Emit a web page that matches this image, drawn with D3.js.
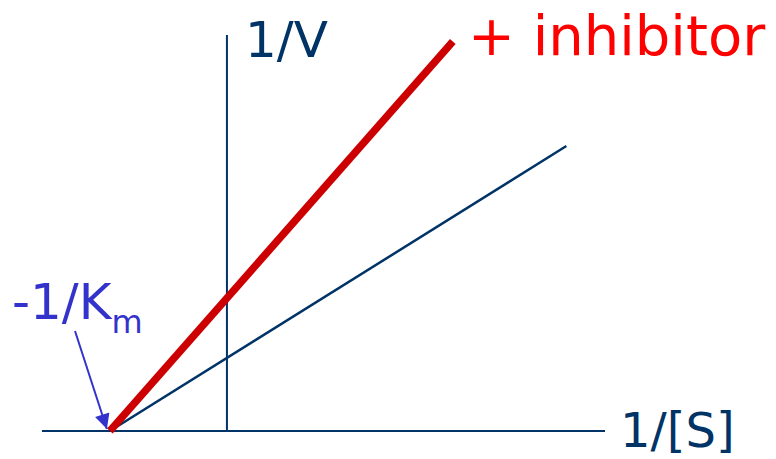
<!DOCTYPE html>
<html>
<head>
<meta charset="utf-8">
<script src="https://cdn.jsdelivr.net/npm/d3@7"></script>
<style>
  body { margin: 0; background: #fff; }
  svg text { font-family: "DejaVu Sans", Verdana, sans-serif; }
</style>
</head>
<body>
<script>
// Lineweaver-Burk plot, 1/[S] vs 1/V
const xDomain = [-1.58, 3.23];
const yDomain = [0, 5.42];

const uninhibited = [{ x: -1, y: 0 }, { x: 2.9, y: 3.9 }];
const inhibited = [{ x: -1, y: 0 }, { x: 1.93, y: 5.33 }];

const labels = { xAxis: "1/[S]", yAxis: "1/V", inhibitor: "+ inhibitor", km: "-1/K", kmSub: "m" };
const kmValue = -1;

const width = 776;
const height = 459;

const svg = d3.select("body").append("svg").attr("width", width).attr("height", height);

const navy = "#003366";

const xScale = d3.scaleLinear().domain(xDomain).range([42, 605]);
const yScale = d3.scaleLinear().domain(yDomain).range([431, 35]);

// axes as plain lines through zero
svg.append("line")
  .attr("x1", xScale(xDomain[0])).attr("x2", xScale(xDomain[1]))
  .attr("y1", yScale(0)).attr("y2", yScale(0))
  .attr("stroke", navy).attr("stroke-width", 2);

svg.append("line")
  .attr("x1", xScale(0)).attr("x2", xScale(0))
  .attr("y1", yScale(0)).attr("y2", yScale(yDomain[1]))
  .attr("stroke", navy).attr("stroke-width", 2);

const line = d3.line()
  .x(d => xScale(d.x))
  .y(d => yScale(d.y));

svg.append("path")
  .datum(uninhibited)
  .attr("fill", "none")
  .attr("stroke", navy)
  .attr("stroke-width", 2.5)
  .attr("d", line);

svg.append("path")
  .datum(inhibited)
  .attr("fill", "none")
  .attr("stroke", "#cc0000")
  .attr("stroke-width", 7.5)
  .attr("d", line);

// labels
svg.append("text")
  .attr("x", 245).attr("y", 57)
  .attr("font-size", 50).attr("fill", navy)
  .text(labels.yAxis);

svg.append("text")
  .attr("x", 468).attr("y", 55)
  .attr("font-size", 56).attr("fill", "#ff0000")
  .text(labels.inhibitor);

svg.append("text")
  .attr("x", 620).attr("y", 447)
  .attr("font-size", 48).attr("fill", navy)
  .text(labels.xAxis);

const blue = "#3333cc";
const km = svg.append("text")
  .attr("x", 12).attr("y", 319)
  .attr("font-size", 50).attr("fill", blue);
km.append("tspan").text(labels.km);
km.append("tspan").attr("dy", 14).attr("font-size", 32).text(labels.kmSub);

// arrow pointing to -1/Km
svg.append("defs").append("marker")
  .attr("id", "arrow")
  .attr("viewBox", "0 0 10 10")
  .attr("refX", 10).attr("refY", 5)
  .attr("markerWidth", 17).attr("markerHeight", 15)
  .attr("markerUnits", "userSpaceOnUse")
  .attr("orient", "auto")
  .append("path")
  .attr("d", "M0,0 L10,5 L0,10 Z")
  .attr("fill", blue);

svg.append("line")
  .attr("x1", 75).attr("y1", 331)
  .attr("x2", xScale(kmValue) - 3).attr("y2", yScale(0) - 2)
  .attr("stroke", blue).attr("stroke-width", 2)
  .attr("marker-end", "url(#arrow)");
</script>
</body>
</html>
